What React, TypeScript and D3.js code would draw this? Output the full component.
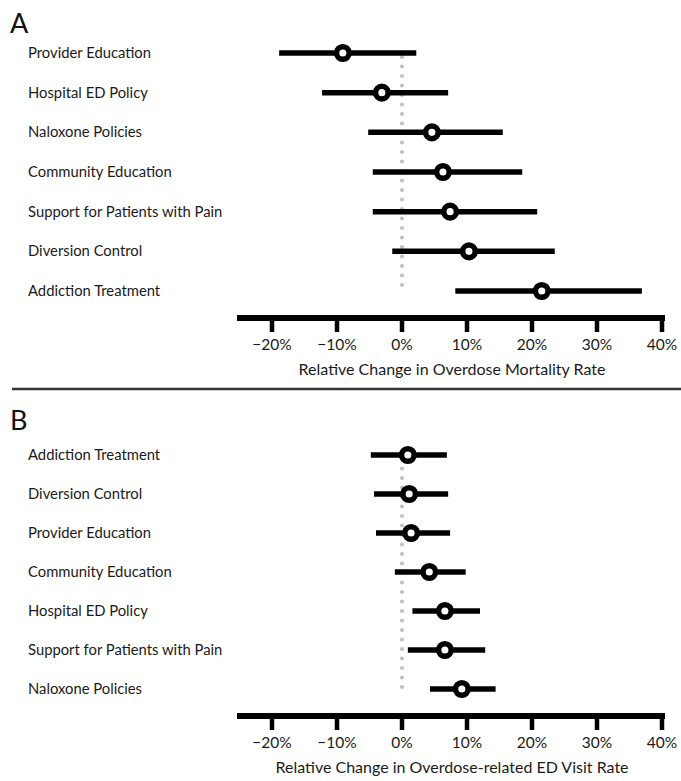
import React, { useRef, useEffect } from 'react';
import * as d3 from 'd3';

// panel A - overdose mortality
const catsA = ['Provider Education', 'Hospital ED Policy', 'Naloxone Policies', 'Community Education', 'Support for Patients with Pain', 'Diversion Control', 'Addiction Treatment'];
const estA = [-9.1, -3.1, 4.6, 6.3, 7.4, 10.3, 21.5];
const lowA = [-18.9, -12.3, -5.2, -4.5, -4.5, -1.5, 8.2];
const highA = [2.2, 7.1, 15.5, 18.5, 20.8, 23.5, 36.9];

// panel B - overdose-related ED visits
const catsB = ['Addiction Treatment', 'Diversion Control', 'Provider Education', 'Community Education', 'Hospital ED Policy', 'Support for Patients with Pain', 'Naloxone Policies'];
const estB = [0.9, 1.1, 1.4, 4.2, 6.6, 6.6, 9.2];
const lowB = [-4.8, -4.3, -4.0, -1.1, 1.6, 0.9, 4.3];
const highB = [6.9, 7.1, 7.4, 9.8, 12.0, 12.8, 14.4];

const ticks = [-20, -10, 0, 10, 20, 30, 40];

const font = 'Lato, "Open Sans", sans-serif';

export default function App() {
  const ref = useRef<SVGSVGElement>(null);

  useEffect(() => {
    const svg = d3.select(ref.current);
    svg.selectAll('*').remove();

    const x = d3.scaleLinear().domain([-20, 40]).range([272, 662]);

    const panel = (
      letter: string, letterY: number,
      cats: string[], est: number[], low: number[], high: number[],
      y0: number, y1: number, axisY: number, title: string
    ) => {
      const y = d3.scalePoint<string>().domain(cats).range([y0, y1]);
      const g = svg.append('g').attr('font-family', font);

      g.append('text')
        .attr('x', 10).attr('y', letterY)
        .attr('font-size', 27).attr('fill', '#111')
        .text(letter);

      g.selectAll('.lab').data(cats).enter().append('text')
        .attr('class', 'lab')
        .attr('x', 28).attr('y', d => y(d)! + 5)
        .attr('font-size', 14.8).attr('fill', '#1a1a1a')
        .text(d => d);

      // zero reference
      g.append('line')
        .attr('x1', x(0)).attr('x2', x(0))
        .attr('y1', y0 + 4).attr('y2', y1)
        .attr('stroke', '#c2c2c2').attr('stroke-width', 4.2)
        .attr('stroke-linecap', 'round').attr('stroke-dasharray', '0 9.5');

      const idx = d3.range(cats.length);
      g.selectAll('.ci').data(idx).enter().append('line')
        .attr('class', 'ci')
        .attr('x1', i => x(low[i])).attr('x2', i => x(high[i]))
        .attr('y1', i => y(cats[i])!).attr('y2', i => y(cats[i])!)
        .attr('stroke', '#000').attr('stroke-width', 5.5);

      g.selectAll('.pt').data(idx).enter().append('circle')
        .attr('class', 'pt')
        .attr('cx', i => x(est[i])).attr('cy', i => y(cats[i])!)
        .attr('r', 6.3)
        .attr('fill', '#fff').attr('stroke', '#000').attr('stroke-width', 5.5);

      // axis
      g.append('line')
        .attr('x1', 237).attr('x2', 665)
        .attr('y1', axisY).attr('y2', axisY)
        .attr('stroke', '#000').attr('stroke-width', 6);
      g.selectAll('.tk').data(ticks).enter().append('line')
        .attr('class', 'tk')
        .attr('x1', d => x(d)).attr('x2', d => x(d))
        .attr('y1', axisY).attr('y2', axisY + 14)
        .attr('stroke', '#000').attr('stroke-width', 4.5);
      g.selectAll('.tl').data(ticks).enter().append('text')
        .attr('class', 'tl')
        .attr('x', d => x(d)).attr('y', axisY + 32)
        .attr('text-anchor', 'middle')
        .attr('font-size', 15.5).attr('fill', '#1a1a1a')
        .text(d => (d < 0 ? '\u2212' + Math.abs(d) : d) + '%');
      g.append('text')
        .attr('x', 452).attr('y', axisY + 57)
        .attr('text-anchor', 'middle')
        .attr('font-size', 16).attr('fill', '#1a1a1a')
        .text(title);
    };

    panel('A', 33, catsA, estA, lowA, highA, 53, 291, 318, 'Relative Change in Overdose Mortality Rate');

    svg.append('line')
      .attr('x1', 12).attr('x2', 681)
      .attr('y1', 389).attr('y2', 389)
      .attr('stroke', '#333').attr('stroke-width', 2.5);

    panel('B', 430, catsB, estB, lowB, highB, 455, 689, 716, 'Relative Change in Overdose-related ED Visit Rate');
  }, []);

  return (
    <div>
      <svg ref={ref} width={681} height={781}
        style={{ position: 'absolute', left: 0, top: 0, background: '#fff' }} />
    </div>
  );
}
